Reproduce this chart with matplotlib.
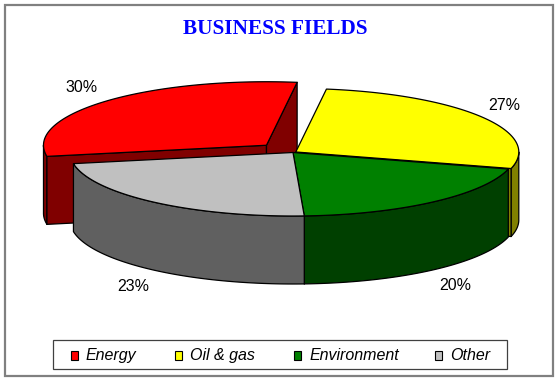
import numpy as np
import matplotlib
matplotlib.use("Agg")
import matplotlib.pyplot as plt
from matplotlib.patches import Polygon, Rectangle

# ---- data ----
categories = ["Energy", "Oil & gas", "Environment", "Other"]
values = [30, 27, 20, 23]
labels = ["30%", "27%", "20%", "23%"]
title = "BUSINESS FIELDS"

# ---- style ----
top_colors = ["#FF0000", "#FFFF00", "#008000", "#C0C0C0"]
side_colors = ["#800000", "#808000", "#004000", "#606060"]
explode = [0.165, 0.015, 0.0, 0.0]
first_angle = -100.1          # degrees, clockwise from 12 o'clock
cx, cy = 293.0, 152.5          # pie centre (pixels)
ra, rb = 223.0, 63.5           # ellipse radii
depth = 68.0
label_kx = [1.15, 1.12, 1.16, 1.15]
label_ky = 1.32
legend_key_x = [71, 174.5, 294, 435]

fig = plt.figure(figsize=(5.6, 3.82), dpi=100)
fig.patch.set_facecolor("white")
ax = fig.add_axes([0, 0, 1, 1])
ax.set_xlim(0, 560)
ax.set_ylim(382, 0)
ax.axis("off")

tot = float(sum(values))
bounds = first_angle + np.concatenate([[0], np.cumsum(values)]) / tot * 360.0


def pt(th, ox, oy, dz=0.0):
    r = np.radians(th)
    return (cx + ox + ra * np.sin(r), cy + oy - rb * np.cos(r) + dz)


edge_kw = dict(edgecolor="black", linewidth=0.9, joinstyle="round")

for i, (t0, t1) in enumerate(zip(bounds[:-1], bounds[1:])):
    mid = np.radians((t0 + t1) / 2)
    ox = explode[i] * ra * np.sin(mid)
    oy = -explode[i] * rb * np.cos(mid)
    c = (cx + ox, cy + oy)

    # outer side (front-facing part: cos < 0)
    for k in (-1, 0, 1):
        f0, f1 = 90 + 360 * k, 270 + 360 * k
        s0, s1 = max(t0, f0), min(t1, f1)
        if s1 > s0:
            th = np.linspace(s0, s1, 80)
            upper = [pt(t, ox, oy) for t in th]
            lower = [pt(t, ox, oy, depth) for t in th[::-1]]
            ax.add_patch(Polygon(upper + lower, closed=True,
                                 facecolor=side_colors[i], **edge_kw))
    # start cut face
    if np.sin(np.radians(t0)) < 0:
        p = pt(t0, ox, oy)
        quad = [c, p, (p[0], p[1] + depth), (c[0], c[1] + depth)]
        ax.add_patch(Polygon(quad, closed=True, facecolor=side_colors[i], **edge_kw))
    # end cut face
    if np.sin(np.radians(t1)) > 0:
        p = pt(t1, ox, oy)
        quad = [c, p, (p[0], p[1] + depth), (c[0], c[1] + depth)]
        ax.add_patch(Polygon(quad, closed=True, facecolor=side_colors[i], **edge_kw))
    # top face
    th = np.linspace(t0, t1, 160)
    top = [c] + [pt(t, ox, oy) for t in th]
    ax.add_patch(Polygon(top, closed=True, facecolor=top_colors[i], **edge_kw))

    # label
    lx = c[0] + label_kx[i] * ra * np.sin(mid)
    ly = c[1] - label_ky * rb * np.cos(mid)
    if np.cos(mid) < 0:
        ly += depth
    ax.text(lx, ly, labels[i], ha="center", va="center", fontsize=11.5,
            family="Liberation Sans", color="black")

# title
ax.text(275.5, 28.5, title, ha="center", va="center", fontsize=15.3,
        family="Liberation Serif", fontweight="bold", color="#0000FF")

# legend
ax.add_patch(Rectangle((53, 340), 454, 29, facecolor="white",
                       edgecolor="#404040", linewidth=0.9))
for i, name in enumerate(categories):
    x0 = legend_key_x[i]
    ax.add_patch(Rectangle((x0, 350.5), 7, 9, facecolor=top_colors[i],
                           edgecolor="black", linewidth=0.8))
    ax.text(x0 + 15, 355.5, name, ha="left", va="center", fontsize=11.5,
            family="Liberation Sans", style="italic", color="black")

# outer frame
ax.add_patch(Rectangle((4.5, 4.5), 548, 371, fill=False,
                       edgecolor="#808080", linewidth=1.6))

fig.savefig("out.png", dpi=100, facecolor="white")
